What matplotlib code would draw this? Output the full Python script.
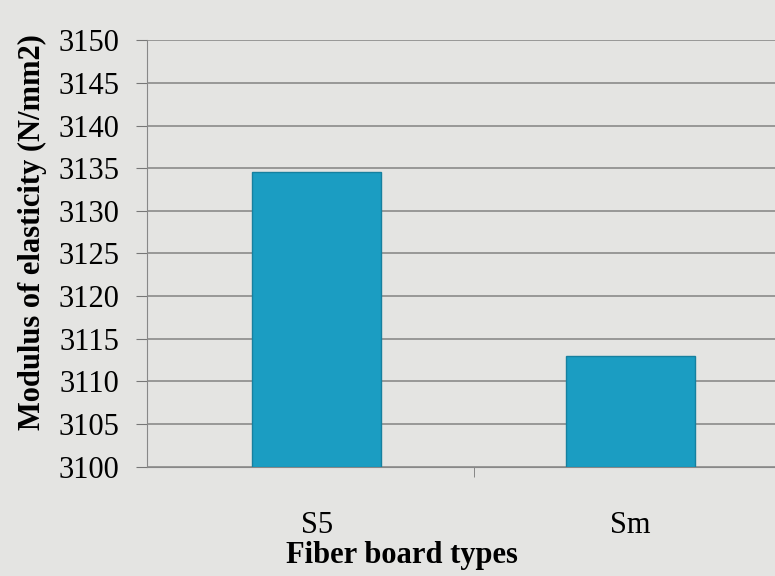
import matplotlib
matplotlib.use('Agg')
import matplotlib.pyplot as plt
import numpy as np

# Datos del grafico
tipos = ['S5', 'Sm']
modulo = [3134.5, 3113.0]
ticks_y = list(range(3100, 3151, 5))

plt.rcParams['font.family'] = ['Liberation Serif', 'DejaVu Serif']

fig = plt.figure(figsize=(7.75, 5.76), dpi=100)
fig.patch.set_facecolor('#e4e4e2')
ax = fig.add_axes([0.19, 0.19, 0.81, 0.74])
ax.set_facecolor('#e4e4e2')

x = np.arange(len(tipos))
ax.bar(x, [v - 3100 for v in modulo], bottom=3100, width=0.41,
       color='#1b9dc2', edgecolor='#16809f', linewidth=1, zorder=3)

ax.set_ylim(3100, 3150)
ax.set_yticks(ticks_y)
ax.set_xlim(-0.54, 1.46)
ax.set_xticks(x)
ax.set_xticklabels(tipos, fontsize=22)
ax.set_xticks([0.5], minor=True)
ax.tick_params(axis='x', which='major', length=0, pad=32)
ax.tick_params(axis='x', which='minor', length=7, color='#777777', direction='out')
ax.tick_params(axis='y', labelsize=22, length=8, color='#777777', pad=12)
ax.grid(axis='y', color='#8a8a8a', linewidth=1.2, zorder=0)

for s in ['top', 'right']:
    ax.spines[s].set_visible(False)
ax.spines['left'].set_color('#888888')
ax.spines['bottom'].set_color('#888888')

ax.set_xlabel('Fiber board types', fontsize=22, fontweight='bold')
ax.xaxis.set_label_coords(0.405, -0.175)
ax.set_ylabel('Modulus of elasticity (N/mm2)', fontsize=22, fontweight='bold')
ax.yaxis.set_label_coords(-0.16, 0.55)

fig.savefig('out.png', dpi=100, facecolor=fig.get_facecolor())
